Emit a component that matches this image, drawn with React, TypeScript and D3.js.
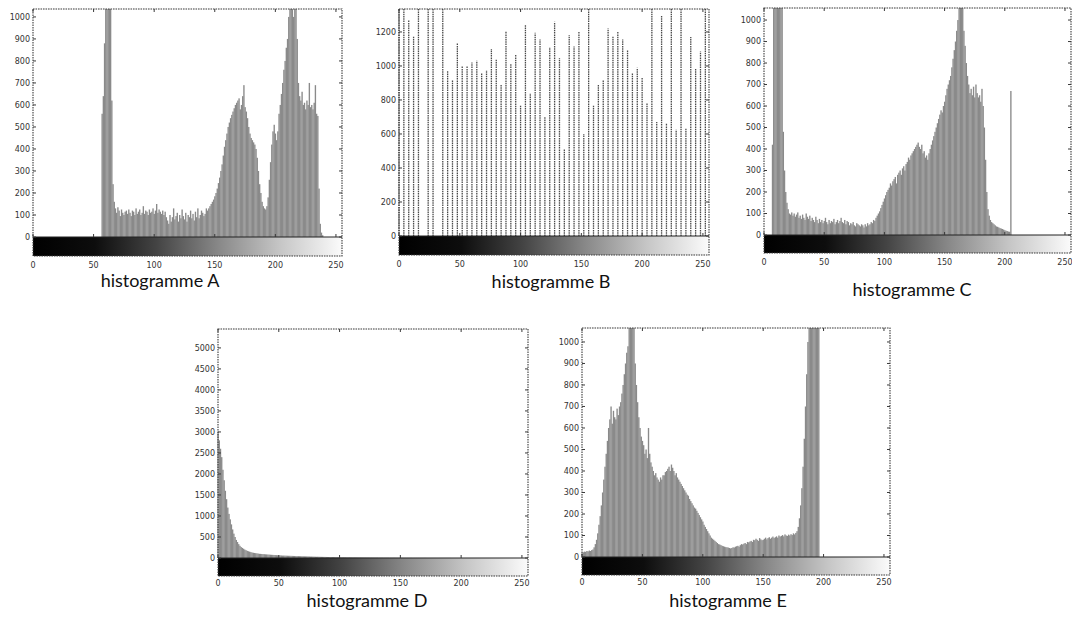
import * as d3 from 'd3';

// gray-level histograms (count per gray level 0..255)
const HIST_A = [
  0, 0, 0, 0, 0, 0, 0, 0, 0, 0, 0, 0, 0, 0, 0, 0,
  0, 0, 0, 0, 0, 0, 0, 0, 0, 0, 0, 0, 0, 0, 0, 0,
  0, 0, 0, 0, 0, 0, 0, 0, 0, 0, 0, 0, 0, 0, 0, 0,
  0, 0, 0, 0, 0, 0, 0, 0, 0, 560, 640, 880, 1100, 1100, 1100, 1100,
  1100, 620, 240, 160, 130, 110, 135, 120, 95, 125, 110, 100, 115, 120, 105, 125,
  110, 95, 120, 115, 100, 130, 105, 115, 125, 100, 110, 140, 105, 120, 115, 100,
  125, 110, 115, 130, 105, 120, 150, 110, 125, 115, 105, 120, 100, 115, 90, 75,
  60, 100, 70, 90, 130, 80, 95, 110, 70, 100, 85, 125, 95, 80, 110, 70,
  100, 90, 120, 85, 105, 75, 115, 90, 130, 85, 100, 120, 110, 95, 105, 130,
  120, 130, 140, 150, 160, 170, 185, 200, 220, 245, 270, 300, 330, 370, 410, 440,
  470, 500, 520, 540, 555, 570, 585, 600, 610, 620, 630, 580, 600, 640, 690, 590,
  570, 540, 500, 470, 450, 440, 430, 420, 400, 360, 300, 240, 200, 160, 140, 130,
  125, 140, 180, 260, 340, 420, 480, 510, 470, 440, 480, 560, 600, 650, 700, 760,
  800, 860, 900, 1000, 1100, 1100, 1100, 1000, 1100, 1100, 900, 700, 640, 620, 660, 600,
  610, 580, 620, 600, 700, 590, 600, 580, 610, 690, 560, 550, 220, 60, 20, 8,
  0, 0, 0, 0, 0, 0, 0, 0, 0, 0, 0, 0, 0, 0, 0, 0,
];

// histogram B only has every 4th gray level filled (0, 4, 8, ... 252)
const HIST_B = [
  1400, 1400, 1270, 1175, 1400, 0, 1400, 1400, 0, 1400, 970, 920, 1135, 1000, 1000, 1020,
  1030, 960, 975, 1100, 1040, 890, 1205, 1015, 1065, 770, 1240, 840, 1195, 1155, 700, 1110,
  1260, 1045, 515, 1180, 1115, 1200, 600, 1400, 770, 890, 915, 1220, 1175, 1200, 1155, 1095,
  960, 990, 930, 780, 1400, 670, 1295, 665, 1400, 625, 1400, 635, 1170, 985, 1085, 1400,
];

const HIST_C = [
  0, 0, 0, 0, 0, 0, 0, 420, 1100, 1100, 1100, 1100, 1100, 1100, 1100, 1100,
  480, 300, 200, 150, 120, 100, 95, 105, 90, 100, 85, 95, 105, 80, 90, 75,
  95, 80, 70, 100, 85, 75, 90, 65, 80, 70, 60, 85, 70, 55, 75, 60,
  70, 55, 65, 80, 60, 50, 70, 55, 65, 60, 75, 50, 60, 70, 55, 65,
  80, 60, 55, 70, 50, 65, 60, 45, 55, 50, 60, 45, 40, 55, 50, 45,
  40, 50, 45, 35, 50, 40, 55, 45, 50, 60, 55, 70, 65, 80, 90, 100,
  110, 125, 140, 155, 170, 185, 200, 210, 220, 240, 230, 250, 260, 270, 240, 280,
  290, 300, 280, 310, 320, 300, 330, 340, 360, 350, 370, 380, 390, 400, 410, 420,
  430, 410, 400, 420, 380, 390, 360, 370, 350, 380, 400, 420, 440, 460, 480, 500,
  520, 540, 560, 580, 570, 600, 620, 650, 680, 700, 720, 740, 780, 820, 860, 900,
  950, 1000, 1100, 1100, 1100, 1100, 950, 880, 800, 740, 700, 660, 680, 650, 690, 640,
  700, 660, 640, 650, 620, 680, 600, 500, 350, 200, 120, 90, 70, 60, 55, 50,
  45, 40, 38, 35, 32, 30, 28, 25, 22, 20, 18, 16, 15, 670, 0, 0,
  0, 0, 0, 0, 0, 0, 0, 0, 0, 0, 0, 0, 0, 0, 0, 0,
  0, 0, 0, 0, 0, 0, 0, 0, 0, 0, 0, 0, 0, 0, 0, 0,
  0, 0, 0, 0, 0, 0, 0, 0, 0, 0, 0, 0, 0, 0, 0, 0,
];

const HIST_D = [
  3000, 2800, 2600, 2400, 2100, 1850, 1600, 1400, 1200, 1050, 920, 800, 680, 580, 500, 430,
  380, 330, 290, 260, 240, 220, 200, 185, 170, 160, 150, 140, 130, 125, 120, 115,
  110, 105, 100, 98, 95, 92, 90, 88, 85, 82, 80, 78, 76, 74, 72, 70,
  68, 66, 64, 62, 60, 58, 57, 56, 55, 54, 53, 52, 51, 50, 49, 48,
  47, 46, 45, 44, 43, 42, 41, 40, 39, 38, 37, 36, 35, 34, 33, 32,
  31, 30, 30, 29, 28, 28, 27, 26, 26, 25, 24, 24, 23, 23, 22, 22,
  21, 21, 20, 20, 19, 19, 18, 18, 17, 17, 16, 16, 16, 15, 15, 14,
  14, 14, 13, 13, 12, 12, 12, 11, 11, 11, 10, 10, 10, 9, 9, 9,
  8, 8, 8, 8, 7, 7, 7, 7, 6, 6, 6, 6, 6, 5, 5, 5,
  5, 5, 5, 4, 4, 4, 4, 4, 4, 3, 3, 3, 3, 3, 3, 3,
  2, 2, 2, 2, 2, 2, 2, 2, 2, 2, 2, 2, 1, 1, 1, 1,
  1, 1, 1, 1, 1, 1, 1, 1, 1, 1, 1, 1, 1, 1, 1, 1,
  0, 0, 0, 0, 0, 0, 0, 0, 0, 0, 0, 0, 0, 0, 0, 0,
  0, 0, 0, 0, 0, 0, 0, 0, 0, 0, 0, 0, 0, 0, 0, 0,
  0, 0, 0, 0, 0, 0, 0, 0, 0, 0, 0, 0, 0, 0, 0, 0,
  0, 0, 0, 0, 0, 0, 0, 0, 0, 0, 0, 0, 0, 0, 0, 0,
];

const HIST_E = [
  20, 22, 25, 24, 28, 26, 30, 28, 32, 35, 45, 60, 80, 110, 150, 190,
  240, 300, 360, 420, 480, 540, 600, 640, 700, 620, 680, 650, 640, 690, 660, 700,
  720, 760, 800, 850, 900, 950, 980, 1100, 1100, 1100, 1100, 1100, 900, 800, 720, 650,
  600, 560, 540, 520, 480, 500, 460, 600, 480, 440, 420, 400, 380, 390, 370, 360,
  350, 370, 360, 380, 380, 395, 400, 410, 420, 400, 430, 415, 400, 380, 390, 370,
  360, 350, 340, 330, 320, 310, 300, 290, 285, 270, 260, 250, 240, 230, 225, 215,
  205, 195, 185, 175, 165, 150, 140, 130, 120, 110, 100, 90, 85, 80, 75, 70,
  65, 60, 58, 55, 52, 50, 48, 46, 45, 44, 42, 40, 42, 45, 44, 48,
  50, 52, 48, 55, 60, 58, 62, 65, 60, 70, 68, 72, 75, 70, 80, 78,
  85, 80, 75, 88, 82, 78, 80, 85, 90, 82, 88, 92, 85, 90, 95, 88,
  92, 96, 90, 100, 95, 98, 102, 96, 105, 100, 98, 104, 100, 106, 102, 110,
  105, 112, 120, 140, 180, 240, 320, 420, 550, 700, 850, 1000, 1100, 1100, 1100, 1100,
  1100, 1100, 1100, 1100, 1100, 0, 0, 0, 0, 0, 0, 0, 0, 0, 0, 0,
  0, 0, 0, 0, 0, 0, 0, 0, 0, 0, 0, 0, 0, 0, 0, 0,
  0, 0, 0, 0, 0, 0, 0, 0, 0, 0, 0, 0, 0, 0, 0, 0,
  0, 0, 0, 0, 0, 0, 0, 0, 0, 0, 0, 0, 0, 0, 0, 0,
];

const X_TICKS = [0, 50, 100, 150, 200, 250];
const Y_TICKS_A = [0, 100, 200, 300, 400, 500, 600, 700, 800, 900, 1000];
const Y_TICKS_B = [0, 200, 400, 600, 800, 1000, 1200];
const Y_TICKS_D = [0, 500, 1000, 1500, 2000, 2500, 3000, 3500, 4000, 4500, 5000];

const TITLES = ['histogramme A', 'histogramme B', 'histogramme C', 'histogramme D', 'histogramme E'];

const panels = [
  { title: TITLES[0], values: HIST_A, step: 1, yMax: 1036, yTicks: Y_TICKS_A, labelGap: 12,
    box: { left: 33, right: 342, top: 9, zero: 237, bottom: 256 }, titleAt: [160, 287] },
  { title: TITLES[1], values: HIST_B, step: 4, yMax: 1335, yTicks: Y_TICKS_B, labelGap: 12,
    box: { left: 399, right: 709, top: 9, zero: 236, bottom: 255 }, titleAt: [551, 288] },
  { title: TITLES[2], values: HIST_C, step: 1, yMax: 1056, yTicks: Y_TICKS_A, labelGap: 12,
    box: { left: 764, right: 1071, top: 8, zero: 235, bottom: 253 }, titleAt: [912, 296] },
  { title: TITLES[3], values: HIST_D, step: 1, yMax: 5450, yTicks: Y_TICKS_D, labelGap: 10,
    box: { left: 218, right: 528, top: 329, zero: 558, bottom: 576 }, titleAt: [367, 607] },
  { title: TITLES[4], values: HIST_E, step: 1, yMax: 1065, yTicks: Y_TICKS_A, labelGap: 10,
    box: { left: 582, right: 890, top: 328, zero: 557, bottom: 575 }, titleAt: [728, 607] },
];

const FRAME = '#3a3a3a';
const TICK_FONT = '"DejaVu Sans", sans-serif';

function Histogram({ p }: { p: typeof panels[number] }) {
  const { left, right, top, zero, bottom } = p.box;
  const x = d3.scaleLinear().domain([0, 255]).range([left, right]);
  const y = d3.scaleLinear().domain([0, p.yMax]).range([zero, top]);
  const bw = x(1) - x(0);

  return (
    <g>
      {p.step === 1
        ? p.values.map((v, i) => v > 0 && (
            <rect key={i} x={x(i) - bw / 2} width={bw + 0.15}
              y={y(Math.min(v, p.yMax))} height={zero - y(Math.min(v, p.yMax))}
              fill="#8a8a8a" />
          ))
        : p.values.map((v, i) => v > 0 && (
            <line key={i} x1={x(i * p.step)} x2={x(i * p.step)}
              y1={zero} y2={y(Math.min(v, p.yMax))}
              stroke="#4a4a4a" strokeWidth={1.3} strokeDasharray="1.5,0.8" />
          ))}

      {/* gray-level colour bar under the axis */}
      <rect x={left} y={zero} width={right - left} height={bottom - zero} fill="url(#grayramp)" />
      <line x1={left} x2={right} y1={zero} y2={zero} stroke="#222" strokeWidth={1} />

      <rect x={left} y={top} width={right - left} height={bottom - top}
        fill="none" stroke={FRAME} strokeWidth={1.1} strokeDasharray="1.6,0.9" />

      {p.yTicks.map(t => (
        <g key={t}>
          <line x1={left} x2={left + 3} y1={y(t)} y2={y(t)} stroke={FRAME} />
          <line x1={right} x2={right - 3} y1={y(t)} y2={y(t)} stroke={FRAME} />
          <text x={left - 3} y={y(t)} dy="0.35em" textAnchor="end"
            fontFamily={TICK_FONT} fontSize={8} fill="#333">{t}</text>
        </g>
      ))}

      {X_TICKS.map(t => (
        <g key={t}>
          <line x1={x(t)} x2={x(t)} y1={top} y2={top + 3} stroke={FRAME} />
          <line x1={x(t)} x2={x(t)} y1={zero} y2={zero - 3} stroke={FRAME} />
          <text x={x(t)} y={bottom + p.labelGap} textAnchor="middle"
            fontFamily={TICK_FONT} fontSize={8} fill="#333">{t}</text>
        </g>
      ))}

      <text x={p.titleAt[0]} y={p.titleAt[1]} textAnchor="middle"
        fontFamily="Lato, 'Open Sans', sans-serif" fontSize={18} fill="#111">{p.title}</text>
    </g>
  );
}

export default function App() {
  return (
    <div style={{ position: 'absolute', left: 0, top: 0, width: 1072, height: 623, background: '#fff' }}>
      <svg width={1072} height={623} style={{ display: 'block' }}>
        <defs>
          <linearGradient id="grayramp" x1="0" x2="1" y1="0" y2="0">
            <stop offset="0" stopColor="#000" />
            <stop offset="0.2" stopColor="#0d0d0d" />
            <stop offset="0.4" stopColor="#444" />
            <stop offset="0.6" stopColor="#888" />
            <stop offset="0.8" stopColor="#c6c6c6" />
            <stop offset="1" stopColor="#fbfbfb" />
          </linearGradient>
        </defs>
        <rect width={1072} height={623} fill="#fff" />
        {panels.map(p => <Histogram key={p.title} p={p} />)}
      </svg>
    </div>
  );
}
